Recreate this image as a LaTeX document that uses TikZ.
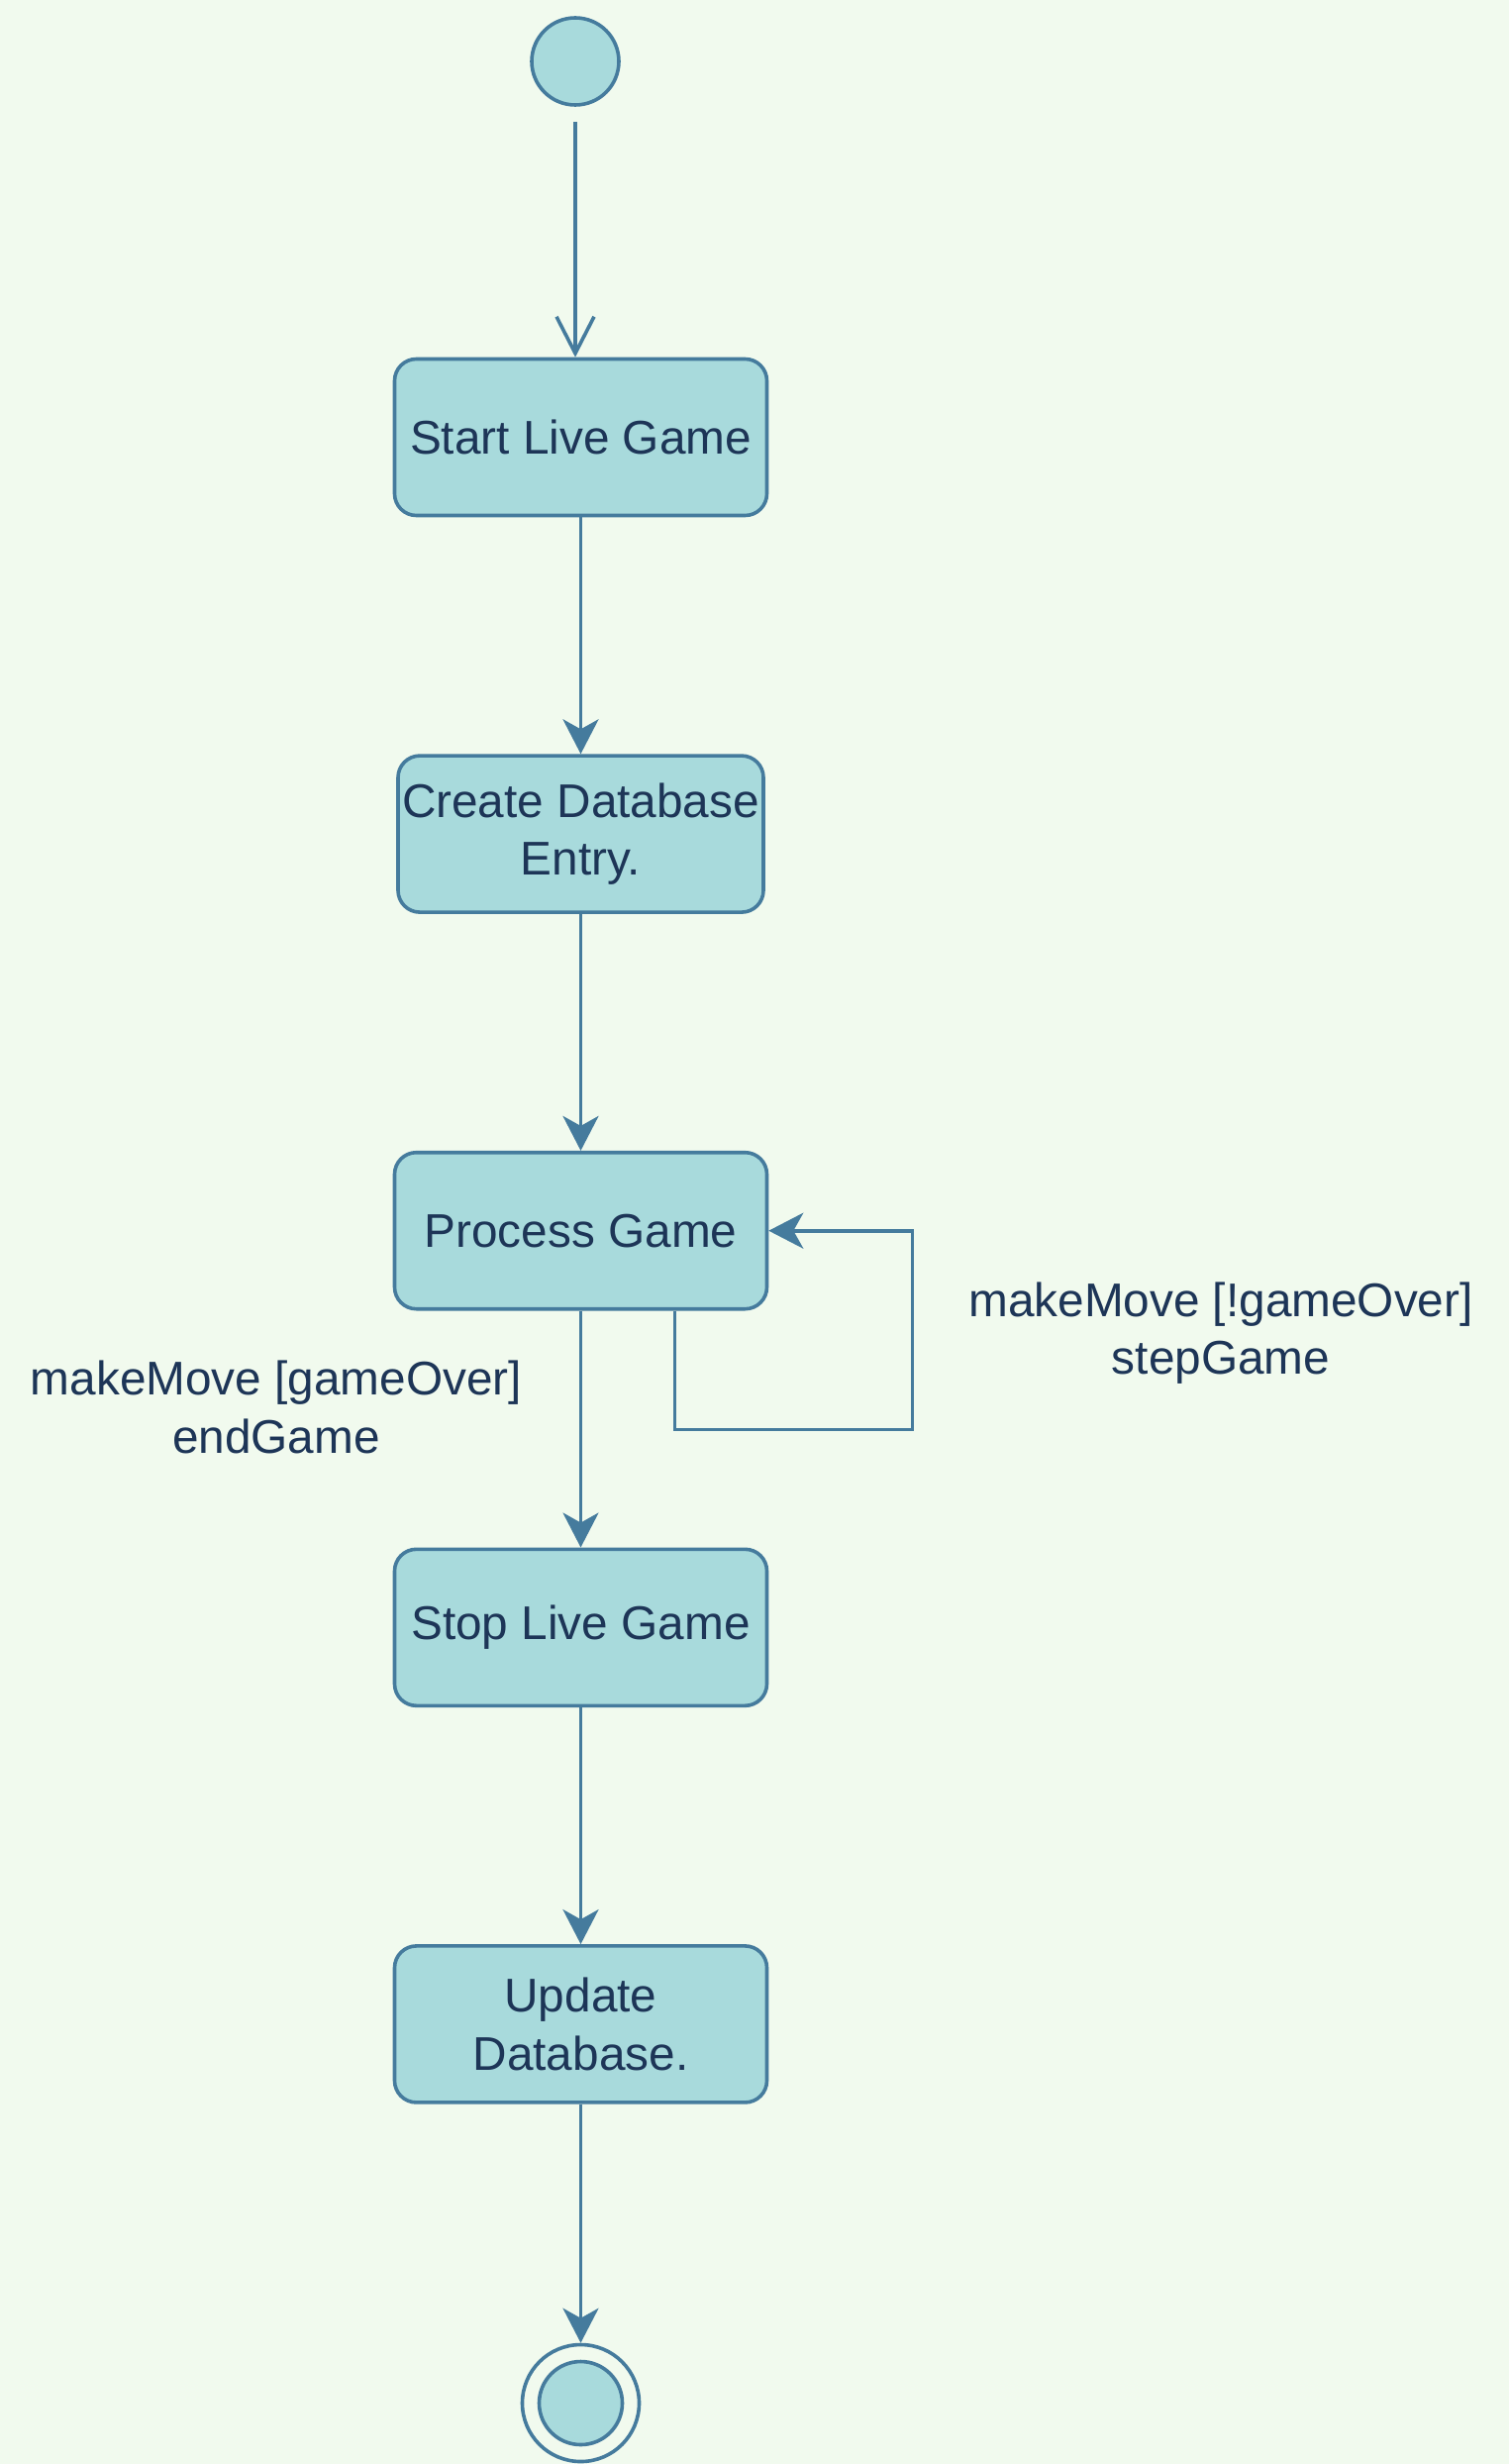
\documentclass[tikz,border=0pt]{standalone}
\usepackage{fontspec}
\setmainfont{Liberation Sans}
\usetikzlibrary{positioning,arrows.meta}
\definecolor{fondo}{HTML}{F1FAEE}
\definecolor{relleno}{HTML}{A8DADC}
\definecolor{borde}{HTML}{457B9D}
\definecolor{texto}{HTML}{1D3557}

\begin{document}
\begin{tikzpicture}[
    x=1pt, y=1pt,
    node distance=239pt,
    letra/.style={font=\fontsize{47.75}{58.7}\selectfont, text=texto},
    estado/.style={letra, draw=borde, fill=relleno, line width=3.6pt, rounded corners=22pt,
      minimum width=376pt, minimum height=158pt, inner sep=2pt, align=center},
    inicial/.style={circle, draw=borde, fill=relleno, line width=3.6pt, minimum size=88pt},
    final/.style={circle, draw=borde, fill=fondo, line width=3.6pt, minimum size=118pt},
    etiqueta/.style={letra, align=center},
    flecha/.style={draw=borde, line width=3.6pt, -{Stealth[length=35pt, width=36pt, inset=10pt]}},
    abierta/.style={draw=borde, line width=3.6pt, -{Straight Barb[length=37pt, width=38pt, line width=3.6pt]}}
  ]
  \useasboundingbox[fill=fondo] (0,0) rectangle (1524,-2488);

  % Nodos
  \node[inicial] (inicio) at (581,-62) {};
  \node[estado] (startlive) at (586.5,-441.5) {Start Live Game};
  \node[estado, minimum width=369pt] (createdb) [below=of startlive] {Create Database\\Entry.};
  \node[estado] (process) [below=of createdb] {Process Game};
  \node[estado] (stoplive) [below=of process] {Stop Live Game};
  \node[estado] (updatedb) [below=of stoplive] {Update\\Database.};
  \node[final] (fin) [below=241pt of updatedb] {};
  \fill[relleno, draw=borde, line width=3.6pt] (fin.center) circle[radius=42pt];

  \node[etiqueta] (overlbl) at (279,-1421) {makeMove [gameOver]\\endGame};
  \node[etiqueta] (steplbl) at (1233,-1346) {makeMove [!gameOver]\\stepGame};

  % Flechas
  \draw[abierta, shorten <=15pt] (inicio) -- (inicio |- startlive.north);
  \draw[flecha] (startlive) -- (createdb);
  \draw[flecha] (createdb) -- (process);
  \draw[flecha] (process) -- (stoplive);
  \draw[flecha] (stoplive) -- (updatedb);
  \draw[flecha] (updatedb) -- (fin);

  \coordinate (vuelta) at ([xshift=145pt, yshift=-120pt]process.south east);
  \draw[flecha] ([xshift=95pt]process.south) |- (vuelta) |- (process.east);
\end{tikzpicture}
\end{document}
